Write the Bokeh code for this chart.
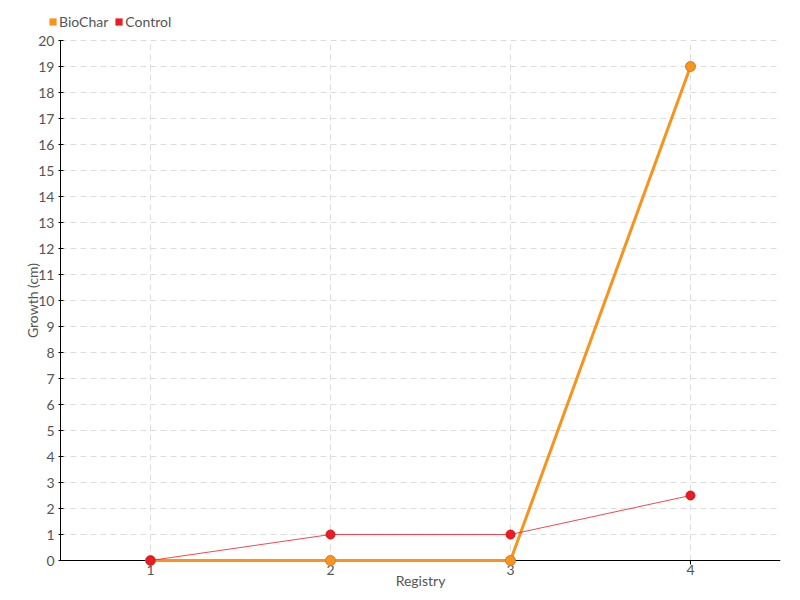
import math
from bokeh.plotting import figure
from bokeh.models import Legend, LegendItem, Range1d, FixedTicker, Grid
from bokeh.embed import file_html
from bokeh.resources import INLINE

registry = [1, 2, 3, 4]
tick_labels = ["1", "2", "3", "4"]
biochar = [0, 0, 0, 19]
control = [0, 1, 1, 2.5]
y_ticks = list(range(0, 21))

ORANGE = "#F7941D"
ORANGE_DARK = "#E07B10"
RED = "#ED1C24"
FONT = "Lato"
GRAY = "#555555"
GRID = "#DDDDDD"

Y_MAX = 20
X_MIN, X_MAX = 0.5, 4.5
PX_Y = 26.0   # pixels per y unit
PX_X = 180.0  # pixels per category step

# frame covers the whole figure; axes are pinned at x=0.5 / y=0 (fixed_location)
AXIS_LEFT_PX, AXIS_BOTTOM_PX, H = 60, 560, 600
x_start = X_MIN - AXIS_LEFT_PX / PX_X
y_start = -(H - AXIS_BOTTOM_PX) / PX_Y
y_top = AXIS_BOTTOM_PX / PX_Y

p = figure(width=800, height=H, output_backend="svg", toolbar_location=None,
           x_range=Range1d(x_start, X_MAX), y_range=Range1d(y_start, y_top),
           min_border_left=0, min_border_right=20, min_border_top=0,
           min_border_bottom=0)
p.outline_line_color = None
p.background_fill_color = "white"
p.border_fill_color = "white"

# remove default grids entirely; draw them as segments inside the axes' extent
p.grid.visible = False
p.center = [c for c in p.center if not isinstance(c, Grid)]
p.segment(x0=registry, y0=[0] * len(registry), x1=registry, y1=[Y_MAX] * len(registry),
          line_color=GRID, line_dash="6 4", line_width=1)
p.segment(x0=[X_MIN] * len(y_ticks), y0=y_ticks, x1=[X_MAX] * len(y_ticks), y1=y_ticks,
          line_color=GRID, line_dash="6 4", line_width=1)

p.xaxis.ticker = FixedTicker(ticks=registry)
p.xaxis.major_label_overrides = {r: t for r, t in zip(registry, tick_labels)}
p.xaxis.bounds = (X_MIN, X_MAX)
p.xaxis.fixed_location = 0
p.yaxis.ticker = FixedTicker(ticks=y_ticks)
p.yaxis.bounds = (0, Y_MAX)
p.yaxis.fixed_location = X_MIN
p.xaxis.minor_tick_line_color = None
p.yaxis.minor_tick_line_color = None

for ax in (p.xaxis, p.yaxis):
    ax.axis_line_color = "black"
    ax.major_tick_line_color = "black"
    ax.major_label_text_font = FONT
    ax.major_label_text_font_size = "14px"
    ax.major_label_text_color = GRAY
    ax.axis_label_text_font = FONT
    ax.axis_label_text_font_size = "14px"
    ax.axis_label_text_color = GRAY
    ax.axis_label_text_font_style = "normal"

p.xaxis.major_tick_out = 4
p.xaxis.major_tick_in = 0
p.xaxis.major_label_standoff = 0
p.xaxis.axis_label = "Registry"
p.xaxis.axis_label_standoff = -6
p.yaxis.major_tick_out = 2
p.yaxis.major_tick_in = 3
p.yaxis.major_label_standoff = 4
p.yaxis.axis_label = "Growth (cm)"
p.yaxis.axis_label_standoff = -6

# BioChar series
p.line(registry, biochar, line_color=ORANGE, line_width=3, level="overlay")
p.scatter(registry, biochar, size=10, fill_color=ORANGE, line_color=ORANGE_DARK,
          line_width=1, level="overlay")

# Control series
p.line(registry, control, line_color=RED, line_width=1, line_alpha=0.8, level="overlay")
p.scatter(registry, control, size=9, fill_color=RED, line_color="#D01820",
          line_width=1, level="overlay")

# legend proxies (square swatches)
nan = [math.nan]
lb = p.quad(left=nan, right=nan, top=nan, bottom=nan, fill_color=ORANGE, line_color=None)
lc = p.quad(left=nan, right=nan, top=nan, bottom=nan, fill_color=RED, line_color=None)

legend = Legend(items=[LegendItem(label="BioChar", renderers=[lb]),
                       LegendItem(label="Control", renderers=[lc])],
                orientation="horizontal", location=(48, 570),
                glyph_width=9, glyph_height=9, label_standoff=2, spacing=6,
                padding=0, margin=0, border_line_color=None, background_fill_alpha=0,
                label_text_font=FONT, label_text_font_size="14px", label_text_color=GRAY,
                label_height=16)
p.add_layout(legend, "center")

open("out.html", "w").write(file_html(p, INLINE))
